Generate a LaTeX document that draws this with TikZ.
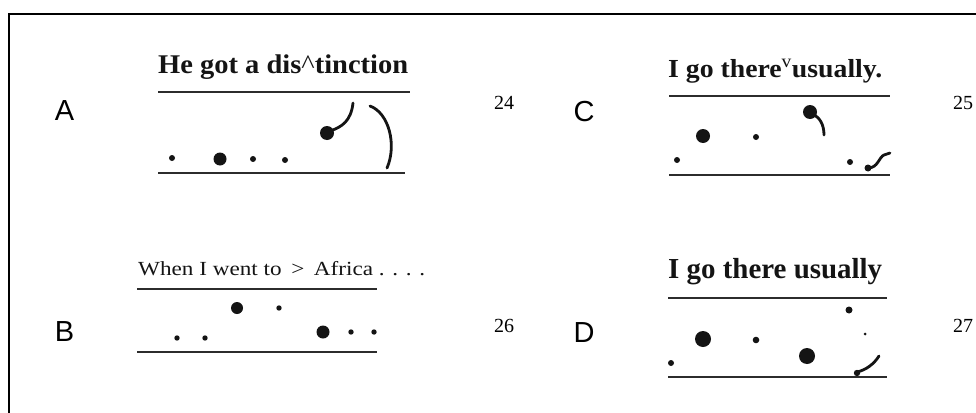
\documentclass[tikz,border=0pt]{standalone}
\usepackage{fontspec}
\setmainfont{Liberation Serif}
\newfontfamily\labfont{Liberation Sans}
\usepackage{graphicx}
\definecolor{ink}{gray}{0.08}
\begin{document}
\begin{tikzpicture}[x=1pt,y=-1pt,
  staffline/.style={draw=ink!90,line width=1.7pt},
  stroke/.style={draw=ink,line width=2.8pt,line cap=round},
  panellabel/.style={inner sep=0pt,font=\labfont\fontsize{29}{29}\selectfont},
  fignum/.style={inner sep=0pt,font=\fontsize{20}{20}\selectfont},
  sentence/.style={anchor=base west,inner sep=0pt,text=ink}]
\useasboundingbox (0,0) rectangle (976,412);
\fill[white] (0,0) rectangle (976,412);
% frame
\draw[line width=2pt] (8.5,413) -- (8.5,14) -- (977,14);

% ---------- labels ----------
\node[panellabel] (la) at (64.5,111) {A};
\node[panellabel] (lc) at (584,112) {C};
\node[panellabel] (lb) at (64.5,332) {B};
\node[panellabel] (ld) at (584,333) {D};
\node[fignum] (n24) at (504,103) {24};
\node[fignum] (n25) at (963,103) {25};
\node[fignum] (n26) at (504,326) {26};
\node[fignum] (n27) at (963,326) {27};

% ---------- A ----------
\node[sentence] (ta) at (158,73) {\resizebox{250pt}{\height}{\fontsize{27}{27}\selectfont\bfseries He got a dis{\mdseries\textasciicircum}tinction}};
\draw[staffline] (158,92) -- (410,92);
\draw[staffline] (158,173) -- (405,173);
\fill[ink] (172,158) circle (3);
\fill[ink] (220,159) circle (6.5);
\fill[ink] (253,159) circle (3);
\fill[ink] (285,160) circle (3);
\fill[ink] (327,133) circle (7);
\draw[stroke] (330,131) .. controls (342,127) and (351,121) .. (353,103);
\draw[stroke] (370,106) .. controls (389,113) and (397,145) .. (387,168);

% ---------- B ----------
\node[sentence] (tb) at (138,275) {\resizebox{287pt}{\height}{\fontsize{20}{20}\selectfont When I went to {\,}>{\,} Africa . . . .}};
\draw[staffline] (137,289) -- (377,289);
\draw[staffline] (137,352) -- (377,352);
\fill[ink] (237,308) circle (6);
\fill[ink] (279,308) circle (2.7);
\fill[ink] (323,332) circle (6.5);
\fill[ink] (351,332) circle (2.7);
\fill[ink] (374,332) circle (2.7);
\fill[ink] (177,338) circle (2.7);
\fill[ink] (205,338) circle (2.7);

% ---------- C ----------
\node[sentence] (tc) at (668,77) {\resizebox{214pt}{\height}{\fontsize{26}{26}\selectfont\bfseries I go there\textsuperscript{\mdseries v}usually.}};
\draw[staffline] (669,96) -- (890,96);
\draw[staffline] (669,175) -- (890,175);
\fill[ink] (703,136) circle (7);
\fill[ink] (756,137) circle (3);
\fill[ink] (810,112) circle (7);
\draw[stroke] (812,114) .. controls (820,117) and (824,125) .. (824,135);
\fill[ink] (677,160) circle (3);
\fill[ink] (850,162) circle (3);
\fill[ink] (868,168) circle (3.5);
\draw[stroke] (868,168) .. controls (878,168) and (879,157) .. (884,155) -- (890,153);

% ---------- D ----------
\node[sentence] (td) at (668,278) {\resizebox{214pt}{\height}{\fontsize{29}{29}\selectfont\bfseries I go there usually}};
\draw[staffline] (668,298) -- (887,298);
\draw[staffline] (668,377) -- (887,377);
\fill[ink] (849,310) circle (3.5);
\fill[ink] (703,339) circle (8);
\fill[ink] (756,340) circle (3.3);
\fill[ink] (865,334) circle (1.5);
\fill[ink] (807,356) circle (8);
\fill[ink] (671,363) circle (3);
\fill[ink] (857,373) circle (3.2);
\draw[stroke] (857,372) .. controls (866,370) and (874,364) .. (879,356);
\end{tikzpicture}
\end{document}
